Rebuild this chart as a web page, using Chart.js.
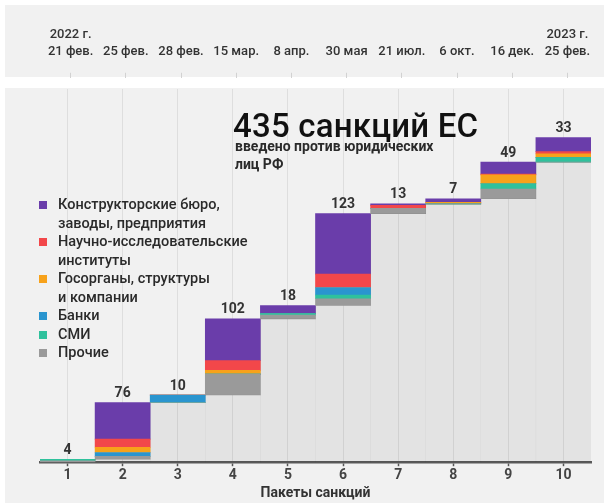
<!DOCTYPE html>
<html lang="ru">
<head>
<meta charset="utf-8">
<title>Санкции ЕС против юридических лиц РФ</title>
<script src="https://cdn.jsdelivr.net/npm/chart.js@4.4.1/dist/chart.umd.min.js"></script>
<style>
  html, body { margin: 0; padding: 0; background: #ffffff; }
  #wrap { position: relative; width: 609px; height: 503px; overflow: hidden;
          font-family: Roboto, "Noto Sans", "DejaVu Sans", sans-serif; }
  .panel { position: absolute; background: #f1f1f1; }
  #topPanel  { left: 5px; top: 5px;  width: 599px; height: 72px; }
  #mainPanel { left: 5px; top: 88px; width: 599px; height: 415px; }
  #timeline { position: absolute; left: 0; top: 0; }
  #chart    { position: absolute; left: 0; top: 88px; }
  #title { position: absolute; left: 233px; top: 106px; font-size: 33px; font-weight: 500;
           color: #111; white-space: nowrap; letter-spacing: 0.2px; }
  #subtitle { position: absolute; left: 235px; top: 137px; font-size: 14px; font-weight: 700;
              line-height: 18px; color: #2a2a2a; }
  #legend { position: absolute; left: 39px; top: 196px; font-size: 14.5px; font-weight: 500;
            line-height: 18.5px; color: #2a2a2a; }
  .item { position: relative; padding-left: 19px; white-space: nowrap; }
  .swatch { position: absolute; left: 0; top: 5px; width: 8px; height: 8px; }
</style>
</head>
<body>
<div id="wrap">
  <div class="panel" id="topPanel"></div>
  <div class="panel" id="mainPanel"></div>
  <canvas id="timeline" width="609" height="160"></canvas>
  <canvas id="chart" width="609" height="415"></canvas>
  <div id="title"></div>
  <div id="subtitle">введено против юридических<br>лиц РФ</div>
  <div id="legend"></div>
</div>
<script>
// Sanctions packages (x axis)
const packages = ['1', '2', '3', '4', '5', '6', '7', '8', '9', '10'];

// Adoption dates of each package (timeline strip)
const packageDates = [
  ['2022 г.', '21 фев.'], '25 фев.', '28 фев.', '15 мар.', '8 апр.',
  '30 мая', '21 июл.', '6 окт.', '16 дек.', ['2023 г.', '25 фев.']
];

// Number of legal entities added in each package, by type
const designBureaus = [0, 49, 0, 56, 11, 81, 2, 5, 16, 19];
const researchInst  = [0, 11, 0, 13, 0, 18, 4, 0, 1, 3];
const stateBodies   = [0, 7, 0, 5, 0, 0, 0, 2, 12, 5];
const banks         = [0, 5, 10, 0, 0, 10, 0, 0, 0, 0];
const media         = [2, 0, 0, 0, 2, 5, 0, 0, 7, 6];
const other         = [2, 4, 0, 28, 5, 9, 7, 0, 13, 0];

// Series, stacked bottom to top
const series = [
  { name: ['Прочие'], data: other, color: '#9a9a9a' },
  { name: ['СМИ'], data: media, color: '#2fc19c' },
  { name: ['Банки'], data: banks, color: '#2a95cf' },
  { name: ['Госорганы, структуры', 'и компании'], data: stateBodies, color: '#f7a21b' },
  { name: ['Научно-исследовательские', 'институты'], data: researchInst, color: '#f2474a' },
  { name: ['Конструкторские бюро,', 'заводы, предприятия'], data: designBureaus, color: '#6a3daa' }
];

const FONT = 'Roboto, "Noto Sans", "DejaVu Sans", sans-serif';

// Package sizes and running totals for the waterfall
const packageSizes = packages.map((_, i) => series.reduce((s, d) => s + d.data[i], 0));
const runningBase = [];
const runningEnd = [];
packageSizes.reduce((acc, v, i) => { runningBase[i] = acc; runningEnd[i] = acc + v; return acc + v; }, 0);
const grandTotal = runningEnd[runningEnd.length - 1];

document.getElementById('title').textContent = grandTotal + ' санкций ЕС';

// HTML legend, top of the stack first
const legend = document.getElementById('legend');
series.slice().reverse().forEach(s => {
  const item = document.createElement('div');
  item.className = 'item';
  const sw = document.createElement('span');
  sw.className = 'swatch';
  sw.style.background = s.color;
  item.appendChild(sw);
  item.appendChild(document.createTextNode(s.name[0]));
  for (let k = 1; k < s.name.length; k++) {
    item.appendChild(document.createElement('br'));
    item.appendChild(document.createTextNode(s.name[k]));
  }
  legend.appendChild(item);
});

// Totals written above every package bar
const valueLabels = {
  id: 'valueLabels',
  afterDatasetsDraw(chart) {
    const { ctx, scales: { x, y } } = chart;
    ctx.save();
    ctx.font = 'bold 14px ' + FONT;
    ctx.fillStyle = '#333333';
    ctx.textAlign = 'center';
    ctx.textBaseline = 'middle';
    packageSizes.forEach((v, i) => {
      ctx.fillText(String(v), x.getPixelForValue(i), y.getPixelForValue(runningEnd[i]) - 9);
    });
    ctx.restore();
  }
};

new Chart(document.getElementById('chart'), {
  type: 'bar',
  data: {
    labels: packages,
    datasets: [
      { label: 'base', data: runningBase, backgroundColor: 'rgba(0,0,0,0.055)', borderWidth: 0 }
    ].concat(series.map(s => ({
      label: s.name.join(' '),
      data: s.data,
      backgroundColor: s.color,
      borderWidth: 0
    })))
  },
  options: {
    responsive: false,
    animation: false,
    categoryPercentage: 1,
    barPercentage: 1,
    layout: { padding: { left: 40, right: 18, top: 1, bottom: 0 } },
    plugins: { legend: { display: false }, tooltip: { enabled: false } },
    scales: {
      x: {
        stacked: true,
        offset: true,
        grid: { display: true, offset: false, color: '#dedede', lineWidth: 1,
                drawTicks: true, tickLength: 4, tickColor: '#555555', tickWidth: 1.5 },
        border: { display: true, color: '#5a5a5a', width: 2.5 },
        ticks: { color: '#444444', padding: 2, font: { family: FONT, size: 14, weight: 'bold', lineHeight: 1.1 } },
        title: { display: true, text: 'Пакеты санкций', color: '#333333',
                 padding: { top: 0, bottom: 2 }, font: { family: FONT, size: 14, weight: 'bold', lineHeight: 1.1 } }
      },
      y: { stacked: true, display: false, min: 0, max: 500 }
    }
  },
  plugins: [valueLabels]
});

// Timeline strip with package dates
new Chart(document.getElementById('timeline'), {
  type: 'bar',
  data: { labels: packageDates, datasets: [{ data: [] }] },
  options: {
    responsive: false,
    animation: false,
    layout: { padding: { left: 43, right: 14, top: 13, bottom: 0 } },
    plugins: { legend: { display: false }, tooltip: { enabled: false } },
    scales: {
      x: {
        position: 'top',
        offset: true,
        grid: { drawOnChartArea: false, drawTicks: true, tickLength: 5, tickColor: '#d2d2d2', offset: false },
        border: { display: false },
        ticks: { autoSkip: false, maxRotation: 0, padding: 13, color: '#333333',
                 font: { family: FONT, size: 13, weight: 500, lineHeight: 1.3 } }
      },
      y: { display: false }
    }
  }
});
</script>
</body>
</html>
